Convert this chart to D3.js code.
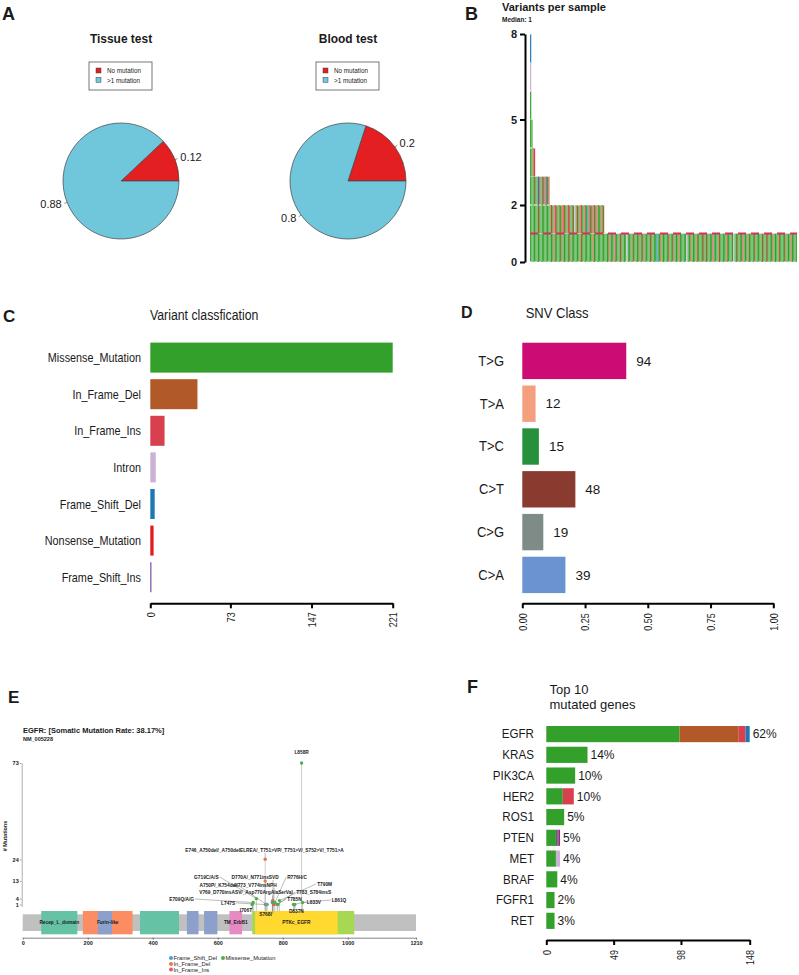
<!DOCTYPE html>
<html><head><meta charset="utf-8">
<script src="https://cdn.jsdelivr.net/npm/d3@7"></script>
<style>
body{margin:0;background:#fff}
svg{display:block}
text{font-family:"Liberation Sans",Arial,Helvetica,sans-serif;fill:#1a1a1a}
</style>
</head><body>
<svg id="chart" width="799" height="975"></svg>
<script>
// ---------------- DATA ----------------
// Panel A
const pieTitles = ["Tissue test", "Blood test"];
const pieLabels = ["No mutation", ">1 mutation"];
const tissueValues = [0.12, 0.88];
const bloodValues = [0.2, 0.8];

// Variant classes (shared by B, C, F)
const vcClasses = ["Missense_Mutation","In_Frame_Del","In_Frame_Ins","Intron","Frame_Shift_Del","Nonsense_Mutation","Frame_Shift_Ins"];
const vcCodes = ["M","D","I","N","F","X","S"];
const vcCounts = [221, 43, 13, 5, 4, 3, 1];
const vcTicks = [0, 73, 147, 221];

// Panel B: variants per sample (one string per sample, one letter per variant)
const samplesTop = ["MMMMMMNF", "MMMMM", "MMMD", "MMMI"];
const samples3 = "MMD MMM MDF MMD MMM MMI MMM MMD MMS MMM MMD".split(" ");
const samples2 = ("MM MD MM DD MI MM MD MM MM DD MX MM MD MM MI DD MM MM MD MN MM MD MM MI DD MM MM MD MM MF " +
                  "MD MM MX DD MM MI MD MM MM MD MM MD").split(" ");
const samples1 = ("MMMDMMMMIM" + "MMDMMMMNMM" + "MDMMMMMDMM" + "IMMMMDMMMM" + "FMMDMMMMMD" + "MMMIMMMDMM" +
                  "MMMNMMDMMM" + "MDMMMMXMMD" + "MMMIMMMMDM" + "MMMMDMMMMN" + "MMDMMMIMMM" + "DMMMMDMMMM" +
                  "MDMMMIMMMD" + "MMMMDMMMDM" + "MMMDMMMM").split("");
const perSampleTicks = [0, 2, 5, 8];
const medianVariants = 1;

// Panel D
const snvClasses = ["T>G","T>A","T>C","C>T","C>G","C>A"];
const snvCounts = [94, 12, 15, 48, 19, 39];
const snvTicks = [0, 0.25, 0.5, 0.75, 1];

// Panel E: EGFR lollipop
const proteinLength = 1210;
const aaTicks = [0, 200, 400, 600, 800, 1000, 1210];
const mutCountTicks = [1, 4, 13, 24, 73];
const domainNames = ["Recep_L_domain","Furin-like","GF_recep_IV","Recep_L_domain","GF_recep_IV","GF_recep_IV","TM_ErbB1","Pkinase_Tyr","PTKc_EGFR"];
const domainStart = [57, 185, 231, 361, 505, 558, 636, 706, 715];
const domainEnd   = [168, 338, 275, 481, 541, 599, 675, 1020, 969];
const domainShowLabel = [true, true, false, false, false, false, true, false, true];
const mutLabels = ["L858R","E746_A750del/_A750delELREA/_T751>VP/_T751>V/_S752>V/_T751>A","","G719C/A/S","E709Q/A/G","I706T",
  "L747S","A750P/_K754del","D770A/_N771insSVD","H773_V774insNPH","V769_D770insASV/_Asp770ArgAlaSerVal","S768I","R776H/C",
  "T783_S784insS","T785N","T790M","L833V","D837N","L861Q",""];
const mutPos   = [858, 746, 746, 719, 709, 706, 747, 750, 770, 773, 769, 768, 776, 783, 785, 790, 833, 837, 861, 752];
const mutCount = [73, 24, 13, 4, 2, 1, 1, 1, 2, 1, 3, 2, 2, 1, 1, 3, 1, 1, 2, 1];
const mutType  = ["M","D","D","M","M","M","M","D","I","I","I","M","M","I","M","M","M","M","M","F"];
// label anchor in data units (amino acid, count level)
const mutLabelAa    = [858, 744, null, 565, 489, 687, 632, 601, 715, 716, 687, 747, 844, 895, 836, 929, 896, 842, 973, null];
const mutLabelLevel = [78.6, 28.8, null, 15, 3.8, -1.8, 1.8, 11, 15, 11, 7, -3.8, 15, 7.4, 3.8, 11.5, 2.3, -2.3, 3.3, null];
const lollipopLegend = [["Frame_Shift_Del","F"],["Missense_Mutation","M"],["In_Frame_Del","D"],["In_Frame_Ins","I"]];

// Panel F
const topGenes = ["EGFR","KRAS","PIK3CA","HER2","ROS1","PTEN","MET","BRAF","FGFR1","RET"];
const geneMissense   = [97, 30, 21, 12, 13, 7, 7, 8, 6, 6];
const geneInFrameDel = [43, 0, 0, 0, 0, 0, 0, 0, 0, 0];
const geneInFrameIns = [5, 0, 0, 8, 0, 0, 0, 0, 0, 0];
const geneIntron     = [0, 0, 0, 0, 0, 0, 3, 0, 0, 0];
const geneFSDel      = [3, 0, 0, 0, 0, 1, 0, 0, 0, 0];
const geneNonsense   = [0, 0, 0, 0, 0, 1, 0, 0, 0, 0];
const geneFSIns      = [0, 0, 0, 0, 0, 1, 0, 0, 0, 0];
const genePct = ["62%","14%","10%","10%","5%","5%","4%","4%","2%","3%"];
const geneTicks = [0, 49, 98, 148];

// ---------------- STYLES ----------------
const vcColors = ["#33A02C","#B15928","#D8404F","#CAB2D6","#1F78B4","#E31A1C","#6A3D9A"];
const colorOf = Object.fromEntries(vcCodes.map((c, i) => [c, vcColors[i]]));
const pieColors = ["#E41F21", "#70C6DA"];
const snvColors = ["#CC0C74","#F4A07E","#26903A","#8A3B30","#7E8B87","#6B93D1"];
const domainColors = {"Recep_L_domain":"#66C2A5","Furin-like":"#FC8D62","GF_recep_IV":"#8DA0CB","TM_ErbB1":"#E78AC3","Pkinase_Tyr":"#A6D854","PTKc_EGFR":"#FFD92F"};
const lolliColors = {M:"#4DAF4A", D:"#E07B4A", I:"#E05A72", F:"#4E9FD6"};
const CONDENSE = 0.82;

const svg = d3.select("#chart");

function rotatedTicks(ax, k, off) {
  ax.selectAll("text").attr("transform", `rotate(-90) scale(${k},1)`).attr("x", -off / k).attr("y", 0).attr("dy","0.35em")
    .attr("text-anchor","end").attr("font-size",11).attr("fill","#222");
}

// panel letters
[["A",2,20,18],["B",465,20,18],["C",3,322,17],["D",461,318,16],["E",8,703,17],["F",467,693,18]].forEach(([t,x,y,s]) =>
  svg.append("text").attr("x",x).attr("y",y).attr("font-size",s).attr("font-weight","bold").attr("fill","#000").text(t));

// ---------------- PANEL A ----------------
[[tissueValues, 121], [bloodValues, 348]].forEach(([vals, cx], k) => {
  const g = svg.append("g");
  const cy = 181, r = 58;
  g.append("text").attr("transform", `translate(${cx},43) scale(0.92,1)`).attr("text-anchor","middle")
    .attr("font-weight","bold").attr("font-size",13).text(pieTitles[k]);
  const lg = g.append("g").attr("transform", `translate(${cx - 32},62)`);
  lg.append("rect").attr("width",63).attr("height",28).attr("fill","#fff").attr("stroke","#555").attr("stroke-width",0.8);
  pieLabels.forEach((l, i) => {
    lg.append("rect").attr("x",7).attr("y",6 + i*9.3).attr("width",5).attr("height",5)
      .attr("fill",pieColors[i]).attr("stroke","#444").attr("stroke-width",0.5);
    lg.append("text").attr("x",18).attr("y",11.2 + i*9.3).attr("font-size",6.3).text(l);
  });
  const pie = d3.pie().sort(null).startAngle(Math.PI/2).endAngle(Math.PI/2 - 2*Math.PI);
  const arc = d3.arc().innerRadius(0).outerRadius(r);
  const arcs = pie(vals);
  const pg = g.append("g").attr("transform", `translate(${cx},${cy})`);
  pg.selectAll("path").data(arcs).join("path").attr("d", arc)
    .attr("fill", (d, i) => pieColors[i]).attr("stroke","#444").attr("stroke-width",0.7);
  arcs.forEach((d, i) => {
    const a = (d.startAngle + d.endAngle) / 2;
    const sx = Math.sin(a), sy = -Math.cos(a);
    pg.append("line").attr("x1", sx*r).attr("y1", sy*r).attr("x2", sx*r*1.05).attr("y2", sy*r*1.05)
      .attr("stroke","#444").attr("stroke-width",0.6);
    pg.append("text").attr("x", sx*r*1.1).attr("y", sy*r*1.1).attr("dy","0.35em")
      .attr("text-anchor", sx > 0 ? "start" : "end").attr("font-size",11).attr("fill","#333").text(vals[i]);
  });
});

// ---------------- PANEL B ----------------
{
  const g = svg.append("g");
  g.append("text").attr("x",502).attr("y",10.5).attr("font-size",11).attr("font-weight","bold").text("Variants per sample");
  g.append("text").attr("x",502).attr("y",21.5).attr("font-size",6.5).attr("font-weight","bold").attr("fill","#333").text("Median: " + medianVariants);
  const samples = samplesTop.concat(samples3, samples2, samples1);
  const x = d3.scaleBand().domain(d3.range(samples.length)).range([530, 797]).padding(0);
  const y = d3.scaleLinear().domain([0, 8]).range([262, 34]);
  samples.forEach((s, i) => {
    s.split("").forEach((c, j) => {
      g.append("rect").attr("x", x(i)).attr("width", x.bandwidth())
        .attr("y", y(j + 1)).attr("height", y(j) - y(j + 1))
        .attr("fill", colorOf[c]).attr("stroke","#fff").attr("stroke-width",0.25).attr("stroke-opacity",0.6);
    });
  });
  g.append("line").attr("x1",530).attr("x2",797).attr("y1",y(medianVariants)).attr("y2",y(medianVariants))
    .attr("stroke","#D3305F").attr("stroke-width",2).attr("stroke-dasharray","8,5");
  const ax = g.append("g").attr("transform","translate(525,0)")
    .call(d3.axisLeft(y).tickValues(perSampleTicks).tickSize(5).tickSizeOuter(0).tickFormat(d3.format("d")));
  ax.select(".domain").attr("stroke-width",2);
  ax.selectAll(".tick line").attr("stroke-width",2);
  ax.selectAll("text").attr("font-size",11).attr("font-weight","bold").attr("fill","#111");
}

// ---------------- PANEL C ----------------
{
  const g = svg.append("g");
  g.append("text").attr("transform", `translate(150,320) scale(${CONDENSE},1)`).attr("font-size",15).text("Variant classfication");
  const y = d3.scaleBand().domain(vcClasses).range([339.3, 595.5]).paddingInner(0.18).paddingOuter(0.09);
  const x = d3.scaleLinear().domain([0, 221]).range([150.3, 392.7]);
  g.selectAll("rect.bar").data(vcClasses).join("rect").attr("class","bar")
    .attr("x", x(0)).attr("y", d => y(d)).attr("height", y.bandwidth())
    .attr("width", (d, i) => x(vcCounts[i]) - x(0)).attr("fill", (d, i) => vcColors[i]);
  g.selectAll("text.lab").data(vcClasses).join("text").attr("class","lab")
    .attr("transform", d => `translate(141,${y(d) + y.bandwidth()/2}) scale(${CONDENSE},1)`)
    .attr("dy","0.35em").attr("text-anchor","end").attr("font-size",13.2).text(d => d);
  const ax = g.append("g").attr("transform","translate(0,603.3)")
    .call(d3.axisBottom(x).tickValues(vcTicks).tickSize(5).tickSizeOuter(0));
  ax.select(".domain").attr("stroke-width",2);
  ax.selectAll(".tick line").attr("stroke-width",2);
  rotatedTicks(ax, CONDENSE, 9);
}

// ---------------- PANEL D ----------------
{
  const g = svg.append("g");
  g.append("text").attr("transform","translate(525.7,318) scale(0.93,1)").attr("font-size",14).text("SNV Class");
  const total = d3.sum(snvCounts);
  const y = d3.scaleBand().domain(snvClasses).range([339.5, 596.3]).paddingInner(0.15).paddingOuter(0.075);
  const x = d3.scaleLinear().domain([0, 1]).range([522.3, 773.3]);
  g.selectAll("rect.bar").data(snvClasses).join("rect").attr("class","bar")
    .attr("x", x(0)).attr("y", d => y(d)).attr("height", y.bandwidth())
    .attr("width", (d, i) => x(snvCounts[i] / total) - x(0)).attr("fill", (d, i) => snvColors[i]);
  g.selectAll("text.val").data(snvClasses).join("text").attr("class","val")
    .attr("x", (d, i) => x(snvCounts[i] / total) + 10).attr("y", d => y(d) + y.bandwidth()/2).attr("dy","0.35em")
    .attr("font-size",13.5).text((d, i) => snvCounts[i]);
  g.selectAll("text.lab").data(snvClasses).join("text").attr("class","lab")
    .attr("transform", d => `translate(504,${y(d) + y.bandwidth()/2}) scale(0.93,1)`).attr("dy","0.35em").attr("text-anchor","end")
    .attr("font-size",14).text(d => d);
  const ax = g.append("g").attr("transform","translate(0,603.3)")
    .call(d3.axisBottom(x).tickValues(snvTicks).tickSize(5).tickSizeOuter(0).tickFormat(d3.format(".2f")));
  ax.select(".domain").attr("stroke-width",2);
  ax.selectAll(".tick line").attr("stroke-width",2);
  rotatedTicks(ax, CONDENSE, 10);
}

// ---------------- PANEL E ----------------
{
  const g = svg.append("g");
  g.append("text").attr("x",23).attr("y",732.5).attr("font-size",7.5).attr("font-weight","bold").text("EGFR: [Somatic Mutation Rate: 38.17%]");
  g.append("text").attr("x",23).attr("y",741).attr("font-size",5.5).attr("font-weight","bold").attr("fill","#333").text("NM_005228");
  const x = d3.scaleLinear().domain([0, proteinLength]).range([22.7, 416]);
  const y = d3.scaleLinear().domain([0, 73]).range([906.5, 763]);
  // y axis
  const ay = g.append("g").attr("transform","translate(21.7,0)")
    .call(d3.axisLeft(y).tickValues(mutCountTicks).tickSize(2).tickSizeOuter(0));
  ay.select(".domain").attr("stroke","#777").attr("stroke-width",0.6);
  ay.selectAll(".tick line").attr("stroke","#777").attr("stroke-width",0.6);
  ay.selectAll("text").attr("font-size",5.5).attr("font-weight","bold").attr("x",-3).attr("fill","#222");
  g.append("text").attr("transform","translate(7,836) rotate(-90)").attr("text-anchor","middle")
    .attr("font-size",5.5).attr("font-weight","bold").attr("fill","#333").text("# Mutations");
  // stems
  const stemBase = 914;
  mutPos.forEach((p, i) => {
    g.append("line").attr("x1", x(p)).attr("x2", x(p)).attr("y1", stemBase).attr("y2", y(mutCount[i]))
      .attr("stroke","#aaa").attr("stroke-width",0.6);
  });
  // backbone + domains
  g.append("rect").attr("x", x(0)).attr("width", x(proteinLength) - x(0)).attr("y",914.3).attr("height",16.7).attr("fill","#C0C0C0");
  domainNames.forEach((d, i) => {
    g.append("rect").attr("x", x(domainStart[i])).attr("width", x(domainEnd[i]) - x(domainStart[i]))
      .attr("y",911).attr("height",23.3).attr("fill", domainColors[d]);
  });
  domainNames.forEach((d, i) => {
    if (!domainShowLabel[i]) return;
    g.append("text").attr("x", x((domainStart[i] + domainEnd[i]) / 2)).attr("y",922.7).attr("dy","0.35em")
      .attr("text-anchor","middle").attr("font-size",4.8).attr("font-weight","bold").attr("fill","#222").text(d);
  });
  // x axis
  const axx = g.append("g").attr("transform","translate(0,937.7)")
    .call(d3.axisBottom(x).tickValues(aaTicks).tickSize(2).tickSizeOuter(0).tickFormat(d3.format("d")));
  axx.select(".domain").attr("stroke","#333").attr("stroke-width",0.6);
  axx.selectAll(".tick line").attr("stroke","#333").attr("stroke-width",0.6);
  axx.selectAll("text").attr("font-size",5.5).attr("font-weight","bold").attr("y",3).attr("fill","#222");
  // labels + leaders
  mutPos.forEach((p, i) => {
    if (!mutLabels[i]) return;
    const lx = x(mutLabelAa[i]), ly = y(mutLabelLevel[i]);
    const t = g.append("text").attr("x", lx).attr("y", ly).attr("dy","0.35em").attr("text-anchor","middle")
      .attr("font-size",4.8).attr("font-weight","bold").attr("fill","#333").text(mutLabels[i]);
    const w = t.node().getComputedTextLength();
    const px = x(p), py = y(mutCount[i]);
    let sx, sy;
    if (Math.abs(px - lx) < w / 2) { sx = px; sy = ly + (py > ly ? 3 : -3); }
    else { sx = px > lx ? lx + w/2 + 1 : lx - w/2 - 1; sy = ly; }
    if (i === 0) return;
    g.append("line").attr("x1", sx).attr("y1", sy).attr("x2", px).attr("y2", py)
      .attr("stroke","#555").attr("stroke-width",0.4);
  });
  // points
  mutPos.forEach((p, i) => {
    g.append("circle").attr("cx", x(p)).attr("cy", y(mutCount[i])).attr("r",1.7).attr("fill", lolliColors[mutType[i]]);
  });
  // legend
  const legPos = [[171,958],[223,958],[171,964],[171,969.5]];
  lollipopLegend.forEach(([name, code], i) => {
    g.append("circle").attr("cx", legPos[i][0]).attr("cy", legPos[i][1]).attr("r",2).attr("fill", lolliColors[code]);
    g.append("text").attr("x", legPos[i][0] + 2.5).attr("y", legPos[i][1]).attr("dy","0.35em")
      .attr("font-size",5.8).attr("fill","#555").text(name);
  });
}

// ---------------- PANEL F ----------------
{
  const g = svg.append("g");
  g.append("text").attr("x",549.5).attr("y",694).attr("font-size",13).text("Top 10");
  g.append("text").attr("x",549.5).attr("y",709).attr("font-size",13).text("mutated genes");
  const y = d3.scaleBand().domain(topGenes).range([723.7, 931.2]).paddingInner(0.22).paddingOuter(0.11);
  const x = d3.scaleLinear().domain([0, 148]).range([546.3, 749.7]);
  const layers = [["M", geneMissense],["D", geneInFrameDel],["I", geneInFrameIns],["N", geneIntron],["F", geneFSDel],["X", geneNonsense],["S", geneFSIns]];
  topGenes.forEach((gene, i) => {
    let acc = 0;
    layers.forEach(([code, arr]) => {
      const v = arr[i];
      if (!v) return;
      g.append("rect").attr("x", x(acc)).attr("width", x(acc + v) - x(acc)).attr("y", y(gene)).attr("height", y.bandwidth())
        .attr("fill", colorOf[code]);
      acc += v;
    });
    g.append("text").attr("x", x(acc) + 3).attr("y", y(gene) + y.bandwidth()/2).attr("dy","0.35em")
      .attr("font-size",12).attr("fill","#333").text(genePct[i]);
    g.append("text").attr("transform", `translate(534,${y(gene) + y.bandwidth()/2}) scale(0.93,1)`).attr("dy","0.35em").attr("text-anchor","end")
      .attr("font-size",12.5).text(gene);
  });
  const ax = g.append("g").attr("transform","translate(0,940)")
    .call(d3.axisBottom(x).tickValues(geneTicks).tickSize(5).tickSizeOuter(0));
  ax.select(".domain").attr("stroke-width",2);
  ax.selectAll(".tick line").attr("stroke-width",2);
  rotatedTicks(ax, CONDENSE, 10);
}
</script>
</body></html>
